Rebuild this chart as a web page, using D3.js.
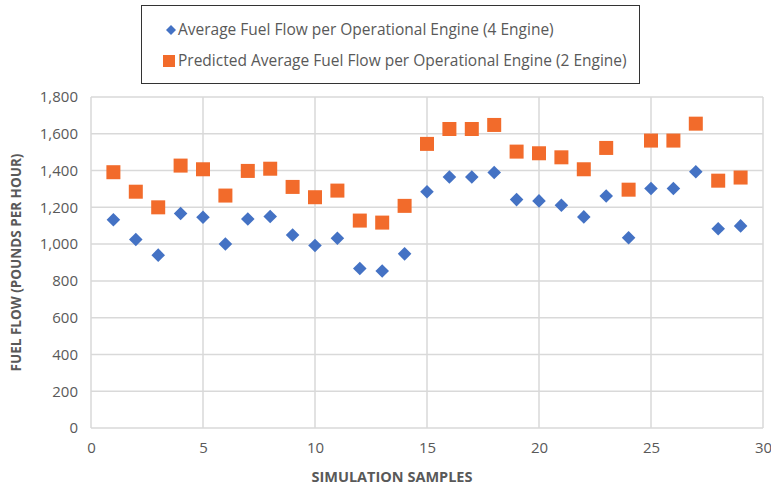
<!DOCTYPE html>
<html>
<head>
<meta charset="utf-8">
<script src="https://cdn.jsdelivr.net/npm/d3@7"></script>
<style>
  body { margin: 0; background: #fff; }
  svg { display: block; font-family: "Open Sans", "Liberation Sans", sans-serif; }
</style>
</head>
<body>
<div id="chart"></div>
<script>
// simulation sample numbers
const samples = [1, 2, 3, 4, 5, 6, 7, 8, 9, 10, 11, 12, 13, 14, 15, 16, 17, 18, 19, 20, 21, 22, 23, 24, 25, 26, 27, 28, 29];

// Average fuel flow per operational engine, 4 engine
const fourEngine = [1132, 1025, 940, 1166, 1146, 1001, 1137, 1150, 1050, 992, 1032, 867, 854, 947, 1285,
  1365, 1365, 1389, 1242, 1235, 1211, 1148, 1262, 1035, 1302, 1302, 1394, 1084, 1099];

// Predicted average fuel flow per operational engine, 2 engine
const twoEngine = [1391, 1285, 1200, 1427, 1407, 1264, 1398, 1410, 1311, 1255, 1291, 1128, 1117, 1208, 1545,
  1626, 1626, 1648, 1503, 1494, 1472, 1407, 1523, 1296, 1563, 1563, 1655, 1345, 1362];

const xTicks = [0, 5, 10, 15, 20, 25, 30];
const yTicks = [0, 200, 400, 600, 800, 1000, 1200, 1400, 1600, 1800];

const seriesNames = [
  "Average Fuel Flow per Operational Engine (4 Engine)",
  "Predicted Average Fuel Flow per Operational Engine (2 Engine)"
];

const width = 771;
const height = 486;
const margin = { top: 97, right: 8, bottom: 58, left: 91 };
const textColor = "#595959";
const gridColor = "#d9d9d9";
const blue = "#4472c4";
const orange = "#f26b2b";

const svg = d3.select("#chart")
  .append("svg")
  .attr("width", width)
  .attr("height", height);

const x = d3.scaleLinear()
  .domain([0, 30])
  .range([margin.left, width - margin.right]);

const y = d3.scaleLinear()
  .domain([0, 1800])
  .range([height - margin.bottom, margin.top]);

// gridlines
svg.append("g")
  .selectAll("line")
  .data(yTicks)
  .join("line")
  .attr("x1", x(0))
  .attr("x2", x(30))
  .attr("y1", (d) => y(d))
  .attr("y2", (d) => y(d))
  .attr("stroke", gridColor)
  .attr("stroke-width", 1.5);

svg.append("g")
  .selectAll("line")
  .data(xTicks)
  .join("line")
  .attr("x1", (d) => x(d))
  .attr("x2", (d) => x(d))
  .attr("y1", y(0))
  .attr("y2", y(1800))
  .attr("stroke", gridColor)
  .attr("stroke-width", 1.5);

// y axis labels
const yAxis = d3.axisLeft(y)
  .tickValues(yTicks)
  .tickFormat(d3.format(","))
  .tickSize(0)
  .tickPadding(13);

svg.append("g")
  .attr("transform", `translate(${x(0)},0)`)
  .call(yAxis)
  .call((g) => g.select(".domain").remove())
  .call((g) => g.selectAll("text")
    .attr("fill", textColor)
    .style("font-size", "15px")
    .style("font-family", "'Open Sans', sans-serif"));

// x axis labels
const xAxis = d3.axisBottom(x)
  .tickValues(xTicks)
  .tickSize(0)
  .tickPadding(14);

svg.append("g")
  .attr("transform", `translate(0,${y(0)})`)
  .call(xAxis)
  .call((g) => g.select(".domain").remove())
  .call((g) => g.selectAll("text")
    .attr("fill", textColor)
    .style("font-size", "15px")
    .style("font-family", "'Open Sans', sans-serif"));

// axis titles
svg.append("text")
  .attr("x", 392)
  .attr("y", 482)
  .attr("text-anchor", "middle")
  .attr("fill", textColor)
  .style("font-size", "14.5px")
  .style("font-weight", "bold")
  .text("SIMULATION SAMPLES");

svg.append("text")
  .attr("transform", `translate(21,${(y(0) + y(1800)) / 2}) rotate(-90)`)
  .attr("text-anchor", "middle")
  .attr("fill", textColor)
  .style("font-size", "13.5px")
  .style("font-weight", "bold")
  .text("FUEL FLOW (POUNDS PER HOUR)");

// points
const diamond = d3.symbol().type(d3.symbolSquare).size(92);

svg.append("g")
  .selectAll("path")
  .data(samples)
  .join("path")
  .attr("d", diamond)
  .attr("transform", (d, i) => `translate(${x(d)},${y(fourEngine[i])}) rotate(45)`)
  .attr("fill", blue);

svg.append("g")
  .selectAll("rect")
  .data(samples)
  .join("rect")
  .attr("x", (d) => x(d) - 7)
  .attr("y", (d, i) => y(twoEngine[i]) - 7)
  .attr("width", 14)
  .attr("height", 14)
  .attr("fill", orange);

// legend
const legend = svg.append("g");

legend.append("rect")
  .attr("x", 141.5)
  .attr("y", 5.5)
  .attr("width", 498)
  .attr("height", 78)
  .attr("fill", "#fff")
  .attr("stroke", "#333")
  .attr("stroke-width", 1);

legend.append("path")
  .attr("d", d3.symbol().type(d3.symbolSquare).size(50))
  .attr("transform", "translate(171,30) rotate(45)")
  .attr("fill", blue);

legend.append("rect")
  .attr("x", 163)
  .attr("y", 55)
  .attr("width", 12)
  .attr("height", 12)
  .attr("fill", orange);

legend.selectAll("text")
  .data(seriesNames)
  .join("text")
  .attr("x", 178)
  .attr("y", (d, i) => 35 + i * 31)
  .attr("fill", textColor)
  .style("font-size", "15.5px")
  .text((d) => d);
</script>
</body>
</html>
